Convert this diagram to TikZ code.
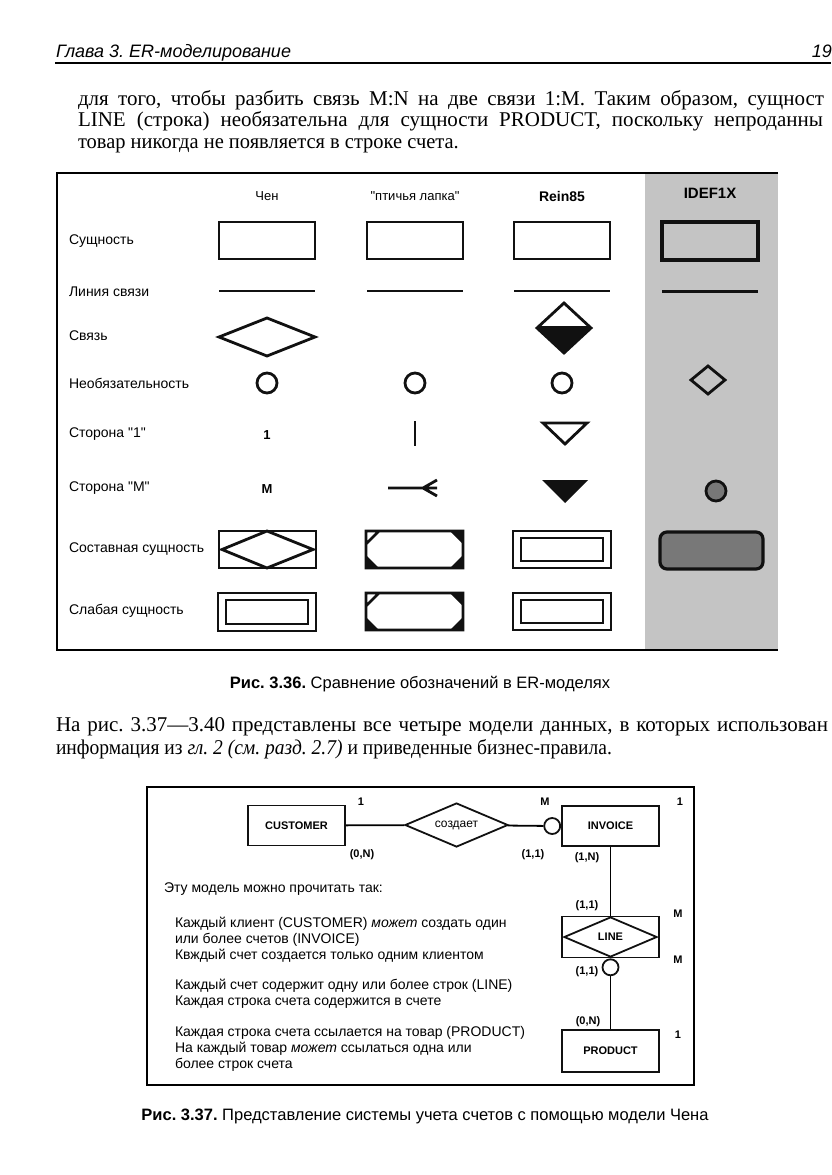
\documentclass[tikz,border=0pt]{standalone}
\usepackage{fontspec}
\usepackage{graphicx}
\setmainfont{Liberation Serif}
\setsansfont{Liberation Sans}
\newfontfamily\rawsans{Liberation Sans}
\usetikzlibrary{positioning, shapes.geometric}
\definecolor{InkBlack}{RGB}{17, 17, 17}
\definecolor{ScanGray}{RGB}{196, 196, 196}
\definecolor{ScanDark}{RGB}{120, 120, 120}

\begin{document}
\frenchspacing
\begin{tikzpicture}[x=1pt, y=-1pt, line width=2pt,
  bodytxt/.style={anchor=base west, inner sep=0pt, font=\fontsize{21}{24}\selectfont},
  rowlbl/.style={anchor=west, inner sep=0pt, font=\rawsans\fontsize{14}{16}\selectfont},
  colhd/.style={inner sep=0pt, font=\rawsans\fontsize{13}{15}\selectfont},
  glyph/.style={line width=2.8pt, draw=InkBlack},
  entbox/.style={draw=InkBlack, line width=1.8pt, minimum width=97pt, minimum height=40pt, inner sep=0pt, font=\sffamily\bfseries\fontsize{11}{13}\selectfont},
  relbox/.style={draw=InkBlack, diamond, aspect=2.3, line width=1.8pt, inner sep=0pt, font=\sffamily\fontsize{12}{14}\selectfont},
  optcirc/.style={draw=InkBlack, circle, line width=1.8pt, minimum size=16pt, inner sep=0pt},
  card/.style={inner sep=0pt, font=\sffamily\bfseries\fontsize{11}{13}\selectfont},
  readtxt/.style={anchor=base west, inner sep=0pt, font=\sffamily\fontsize{14}{16}\selectfont},
  captxt/.style={inner sep=0pt, font=\sffamily\fontsize{16.5}{18}\selectfont}]
\useasboundingbox[fill=white] (0,0) rectangle (831,1175);

\node[anchor=base west, inner sep=0pt, font=\sffamily\itshape\fontsize{18}{20}\selectfont] (chapter) at (55,57) {Глава 3. ER-моделирование};
\node[anchor=base east, inner sep=0pt, font=\sffamily\itshape\fontsize{18}{20}\selectfont] (pageno) at (833,57) {19};
\draw[line width=2pt] (55,63) -- (831,63);

\node[bodytxt] (par1a) at (77,105) {\makebox[746pt][s]{для того, чтобы разбить связь M:N на две связи 1:M. Таким образом, сущност}};
\node[bodytxt] (par1b) at (77,126.5) {\makebox[745pt][s]{LINE (строка) необязательна для сущности PRODUCT, поскольку непроданны}};
\node[bodytxt] (par1c) at (77,148) {\scalebox{0.975}[1]{товар никогда не появляется в строке счета.}};

% table of notations
\fill[ScanGray] (645,174) rectangle (778,649);
\draw[line width=2pt] (778,173) -- (57,173) -- (57,650) -- (778,650);
\node[colhd] (hd-chen) at (267,196) {Чен};
\node[colhd] (hd-bird) at (415,196) {"птичья лапка"};
\node[colhd, font=\sffamily\bfseries\fontsize{14}{16}\selectfont] (hd-rein) at (562,196) {Rein85};
\node[colhd, font=\sffamily\bfseries\fontsize{15}{17}\selectfont] (hd-idef) at (710,193) {IDEF1X};
\foreach \y/\t in {241/Сущность, 292/Линия связи, 336/Связь, 383/Необязательность, 434/Сторона "1", 488/Сторона "M", 549/Составная сущность, 611/Слабая сущность}
  \node[rowlbl] (row-\y) at (68,\y) {\t};

\foreach \x in {267, 415, 562} { \draw[glyph] (\x-48,222) rectangle (\x+48,259); \draw[glyph] (\x-48,291) -- (\x+48,291); }
\draw[glyph, line width=3.2pt] (662,222) rectangle (758,260);
\draw[glyph, line width=3pt] (662,291) -- (758,291);

\draw[glyph] (219,337) -- (267,318) -- (315,337) -- (267,356) -- cycle;
\fill[InkBlack] (539.2,326) -- (588.8,326) -- (591,328) -- (564,353) -- (537,328) -- cycle;
\draw[glyph] (564,303) -- (591,328) -- (564,353) -- (537,328) -- cycle;

\foreach \x in {267, 415, 562} \draw[glyph] (\x,383) circle (10);
\draw[glyph] (708,366) -- (725,380) -- (708,394) -- (691,380) -- cycle;

\node[colhd, font=\sffamily\bfseries\fontsize{13}{15}\selectfont] (one-chen) at (267,435) {1};
\draw[glyph] (415,421) -- (415,446);
\draw[glyph] (543,423) -- (587,423) -- (565,444) -- cycle;

\node[colhd, font=\sffamily\bfseries\fontsize{13}{15}\selectfont] (many-chen) at (267,489) {M};
\draw[glyph] (388,488) -- (437,488) (423,488) -- (437,480) (423,488) -- (437,496);
\fill[InkBlack] (542,480) -- (588,480) -- (565,503) -- cycle;
\filldraw[glyph, fill=ScanDark] (716,491) circle (10);

\draw[glyph] (219,531) rectangle (316,568);
\draw[glyph] (267,531) -- (313,549.5) -- (267,568) -- (222,549.5) -- cycle;
\draw[glyph] (218,593) rectangle (316,631) (226,600) rectangle (308,624);
\foreach \y in {531, 593} {
  \draw[glyph] (366,\y) rectangle (463,\y+37) (366,\y+13) -- (379,\y);
  \fill[InkBlack] (366,\y+24) -- (379,\y+37) -- (366,\y+37) -- cycle (463,\y+24) -- (450,\y+37) -- (463,\y+37) -- cycle (450,\y) -- (463,\y) -- (463,\y+13) -- cycle;
  \draw[glyph] (513,\y) rectangle (611,\y+37) (521,\y+7) rectangle (603,\y+30);
}
\draw[glyph, line width=3.2pt, fill=ScanDark, rounded corners=7pt] (660,532) rectangle (763,569);

\node[captxt] (cap36) at (420,684) {\textbf{Рис. 3.36.} Сравнение обозначений в ER-моделях};

\node[bodytxt] (par2a) at (55,731) {\makebox[772pt][s]{На рис. 3.37---3.40 представлены все четыре модели данных, в которых использован}};
\node[bodytxt] (par2b) at (55,754) {\scalebox{0.93}[1]{информация из \textit{гл. 2 (см. разд. 2.7)} и приведенные бизнес-правила.}};

% Chen model of the invoice system
\draw[line width=1.4pt] (147,787) rectangle (694,1085);
\node[entbox] (customer) at (296.5,825.5) {CUSTOMER};
\node[relbox, minimum width=103pt, minimum height=44pt] (creates) at (456.5,825) {создает};
\node[entbox] (invoice) at (610.5,826) {INVOICE};
\node[optcirc, left=0pt of invoice] (optinv) {};
\node[entbox, minimum height=41pt] (line) at (610.5,937) {};
\node[relbox, minimum width=93pt, minimum height=40pt, font=\sffamily\bfseries\fontsize{11}{13}\selectfont] (linerel) at (line.center) {LINE};
\node[optcirc, below=0pt of line] (optline) {};
\node[entbox, minimum height=42pt] (product) at (610.5,1051) {PRODUCT};
\draw[line width=1.8pt] (customer) -- (creates);
\draw[line width=1.8pt] (creates) -- (optinv);
\draw[line width=1.8pt] (invoice) -- (line);
\draw[line width=1.8pt] (optline) -- (product);

\node[card] (c-cust) at (361,802) {1};
\node[card] (c-invm) at (545,802) {M};
\node[card] (c-inv1) at (680,802) {1};
\node[card] (c-custn) at (362,855) {(0,N)};
\node[card] (c-cre) at (533,855) {(1,1)};
\node[card] (c-invn) at (587,858) {(1,N)};
\node[card] (c-linea) at (587,906) {(1,1)};
\node[card] (c-linem) at (678,914) {M};
\node[card] (c-linen) at (678,960) {M};
\node[card] (c-lineb) at (587,972) {(1,1)};
\node[card] (c-prodn) at (588,1022) {(0,N)};
\node[card] (c-prod1) at (678,1035) {1};

\node[readtxt] (intro) at (163,892) {Эту модель можно прочитать так:};
\foreach \y/\t in {927/{Каждый клиент (CUSTOMER) \textit{может} создать один}, 943/{или более счетов (INVOICE)}, 959/{Квждый счет создается только одним клиентом}, 989/{Каждый счет содержит одну или более строк (LINE)}, 1005/{Каждая строка счета содержится в счете}, 1036/{Каждая строка счета ссылается на товар (PRODUCT)}, 1052/{На каждый товар \textit{может} ссылаться одна или}, 1068/{более строк счета}}
  \node[readtxt] (rule-\y) at (174,\y) {\t};

\node[captxt] (cap37) at (425,1116) {\textbf{Рис. 3.37.} Представление системы учета счетов с помощью модели Чена};
\end{tikzpicture}
\end{document}
